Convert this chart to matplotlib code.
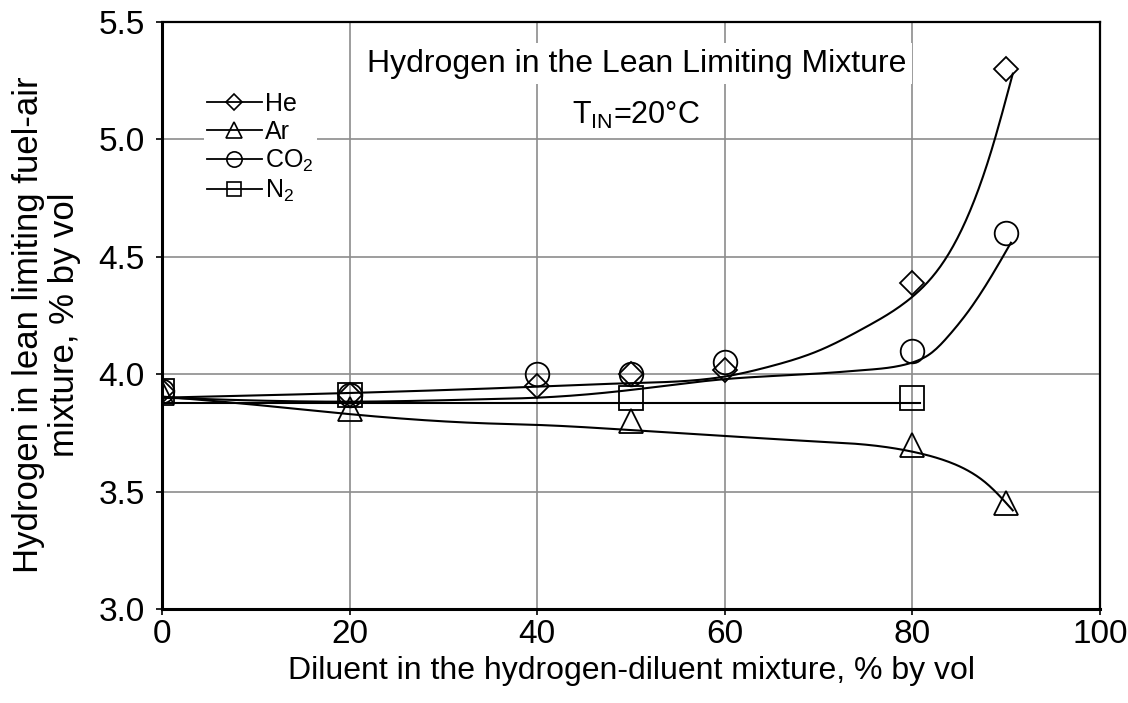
import numpy as np
import matplotlib
matplotlib.use("Agg")
import matplotlib.pyplot as plt
from matplotlib.lines import Line2D

plt.rcParams['font.family'] = ['Liberation Sans', 'DejaVu Sans']
plt.rcParams['mathtext.default'] = 'regular'

# ---- measured points ----
he_x = [0, 20, 40, 50, 60, 80, 90]
he_y = [3.93, 3.91, 3.95, 4.00, 4.02, 4.39, 5.30]
ar_x = [0, 20, 50, 80, 90]
ar_y = [3.92, 3.85, 3.80, 3.70, 3.45]
co2_x = [0, 20, 40, 50, 60, 80, 90]
co2_y = [3.93, 3.91, 4.00, 4.00, 4.05, 4.10, 4.60]
n2_x = [0, 20, 50, 80]
n2_y = [3.93, 3.91, 3.90, 3.90]

# ---- trend-line values ----
he_fit_x = [0, 20, 40, 50, 60, 65, 70, 75, 80, 83, 85.3, 88.4, 90.7]
he_fit_y = [3.90, 3.92, 3.947, 3.962, 3.99, 4.035, 4.10, 4.20, 4.33, 4.46, 4.62, 4.95, 5.28]
co2_fit_x = [0, 20, 35, 40, 50, 60, 70, 75, 80, 82, 84, 86, 88, 90.5]
co2_fit_y = [3.90, 3.883, 3.894, 3.90, 3.933, 3.979, 4.003, 4.018, 4.05, 4.09, 4.17, 4.27, 4.39, 4.56]
ar_fit_x = [0, 10.4, 20, 35, 40, 50, 60, 70, 75, 80, 82.9, 85.8, 87.9, 90.7]
ar_fit_y = [3.905, 3.868, 3.83, 3.79, 3.784, 3.762, 3.737, 3.713, 3.70, 3.67, 3.64, 3.592, 3.535, 3.42]
n2_fit_x = [0, 80.8]
n2_fit_y = [3.877, 3.877]

x_ticks = [0, 20, 40, 60, 80, 100]
y_ticks = [3.0, 3.5, 4.0, 4.5, 5.0, 5.5]


def natural_spline(xk, yk, xs):
    xk = np.asarray(xk, float)
    yk = np.asarray(yk, float)
    n = len(xk)
    h = np.diff(xk)
    A = np.zeros((n, n))
    r = np.zeros(n)
    A[0, 0] = A[-1, -1] = 1
    for i in range(1, n - 1):
        A[i, i - 1] = h[i - 1]
        A[i, i] = 2 * (h[i - 1] + h[i])
        A[i, i + 1] = h[i]
        r[i] = 3 * ((yk[i + 1] - yk[i]) / h[i] - (yk[i] - yk[i - 1]) / h[i - 1])
    c = np.linalg.solve(A, r)
    b = (yk[1:] - yk[:-1]) / h - h * (2 * c[:-1] + c[1:]) / 3
    d = (c[1:] - c[:-1]) / (3 * h)
    idx = np.clip(np.searchsorted(xk, xs) - 1, 0, n - 2)
    dx = xs - xk[idx]
    return yk[idx] + b[idx] * dx + c[idx] * dx ** 2 + d[idx] * dx ** 3


fig = plt.figure(figsize=(11.28, 7.03), dpi=100)
ax = fig.add_axes([0.1436, 0.1337, 0.8316, 0.835])

FS_TICK = 24
FS_LAB = 23
lw_curve = 1.5
mew = 1.3
ms = 17

for fx, fy in [(he_fit_x, he_fit_y), (co2_fit_x, co2_fit_y), (ar_fit_x, ar_fit_y)]:
    xs = np.linspace(fx[0], fx[-1], 400)
    ax.plot(xs, natural_spline(fx, fy, xs), color='black', lw=lw_curve, zorder=3)
ax.plot(n2_fit_x, n2_fit_y, color='black', lw=lw_curve, zorder=3)

mk = dict(ls='none', mfc='none', mec='black', mew=mew, zorder=4)
ax.plot(he_x, he_y, marker='D', ms=ms / 1.41, **mk)
ax.plot(ar_x, ar_y, marker='^', ms=ms, **mk)
ax.plot(co2_x, co2_y, marker='o', ms=ms, **mk)
ax.plot(n2_x, n2_y, marker='s', ms=ms * 0.98, **mk)

ax.set_xlim(0, 100)
ax.set_ylim(3.0, 5.5)
ax.set_xticks(x_ticks)
ax.set_yticks(y_ticks)
ax.set_xticklabels([str(v) for v in x_ticks])
ax.set_yticklabels([f'{v:.1f}' for v in y_ticks])
ax.tick_params(direction='out', length=4.5, width=1.2, labelsize=FS_TICK)
ax.tick_params(axis='x', pad=3)
ax.tick_params(axis='y', pad=8)
ax.grid(True, color='#8c8c8c', lw=1.2, zorder=0)
ax.set_axisbelow(True)
for s in ax.spines.values():
    s.set_linewidth(1.6)
    s.set_color('black')
ax.spines['left'].set_linewidth(2.2)
ax.spines['bottom'].set_linewidth(2.2)

ax.set_xlabel('Diluent in the hydrogen-diluent mixture, % by vol', fontsize=FS_LAB, labelpad=4)
ax.set_ylabel('Hydrogen in lean limiting fuel-air\nmixture, % by vol', fontsize=25,
              linespacing=1.12)
ax.yaxis.set_label_coords(-0.086, 0.485)

ax.text(0.5064, 0.929, 'Hydrogen in the Lean Limiting Mixture', transform=ax.transAxes,
        ha='center', va='center', fontsize=FS_LAB, zorder=5,
        bbox=dict(facecolor='white', edgecolor='none', pad=4))
ax.text(0.505, 0.84, r'T$_{IN}$=20°C', transform=ax.transAxes,
        ha='center', va='center', fontsize=22, zorder=5,
        bbox=dict(facecolor='white', edgecolor='none', pad=1))

lms = 11
handles = [
    Line2D([], [], color='black', lw=1.3, marker='D', ms=lms / 1.41, mfc='none', mec='black', mew=1.2),
    Line2D([], [], color='black', lw=1.3, marker='^', ms=lms, mfc='none', mec='black', mew=1.2),
    Line2D([], [], color='black', lw=1.3, marker='o', ms=lms, mfc='none', mec='black', mew=1.2),
    Line2D([], [], color='black', lw=1.3, marker='s', ms=lms * 0.95, mfc='none', mec='black', mew=1.2),
]
leg = ax.legend(handles, ['He', 'Ar', 'CO$_2$', 'N$_2$'], loc='upper left',
                bbox_to_anchor=(0.045, 0.885), fontsize=18, frameon=True, fancybox=False,
                framealpha=1, facecolor='white', edgecolor='none',
                handlelength=2.2, handletextpad=0.15, labelspacing=0.15,
                borderpad=0.1, borderaxespad=0)
leg.set_zorder(6)

fig.savefig('out.png', dpi=100)
